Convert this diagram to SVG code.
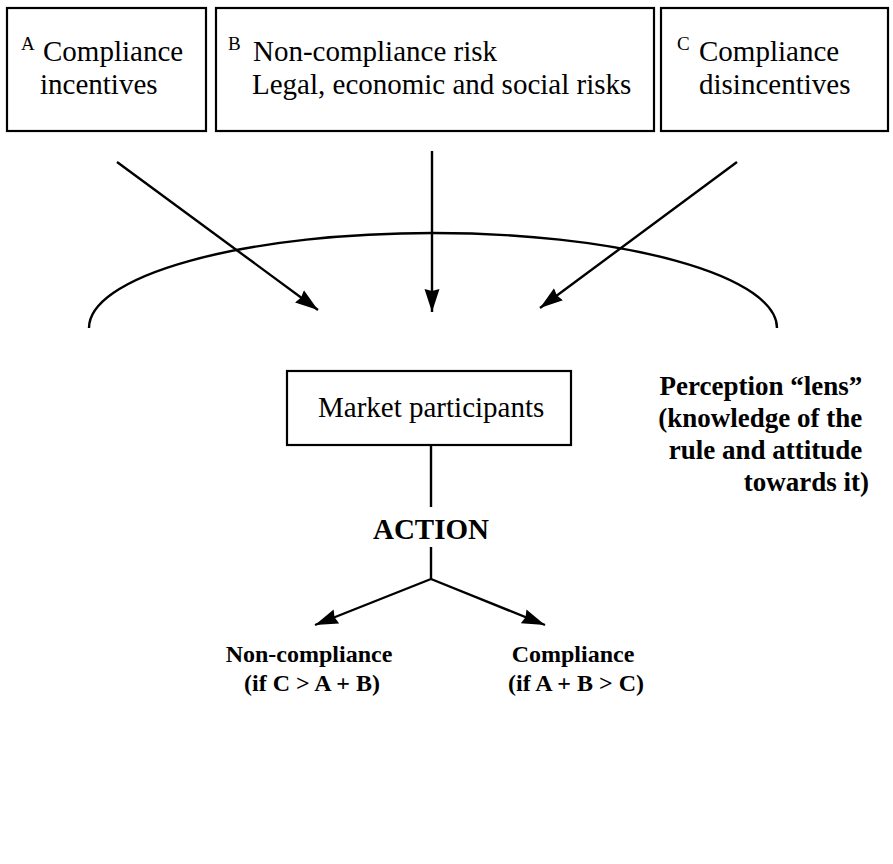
<svg xmlns="http://www.w3.org/2000/svg" width="893" height="864" viewBox="0 0 893 864">
<defs>
<marker id="ah" markerUnits="userSpaceOnUse" markerWidth="26" markerHeight="18" refX="23" refY="8" orient="auto">
<path d="M0,0.5 L23,8 L0,15.5 L2,8 Z" fill="#000"/>
</marker>
<style>
.box{fill:#fff;stroke:#000;stroke-width:2.2}
.t{font-family:"Liberation Serif","Times New Roman",serif;font-size:29px;fill:#000}
.sup{font-family:"Liberation Serif","Times New Roman",serif;font-size:19px;fill:#000}
.b{font-family:"Liberation Serif","Times New Roman",serif;font-weight:bold;fill:#000}
.ln{fill:none;stroke:#000;stroke-width:2.4}
</style>
</defs>
<rect width="893" height="864" fill="#fff"/>
<g id="nodeA">
<rect class="box" x="7" y="8" width="199" height="123"/>
<text class="sup" x="21" y="50">A</text>
<text class="t" x="43" y="61">Compliance</text>
<text class="t" x="40" y="94">incentives</text>
</g>
<g id="nodeB">
<rect class="box" x="216" y="8" width="438" height="123"/>
<text class="sup" x="228" y="50">B</text>
<text class="t" x="253" y="61">Non-compliance risk</text>
<text class="t" x="252" y="94">Legal, economic and social risks</text>
</g>
<g id="nodeC">
<rect class="box" x="661" y="8" width="227" height="123"/>
<text class="sup" x="677" y="50">C</text>
<text class="t" x="699" y="61">Compliance</text>
<text class="t" x="699" y="94">disincentives</text>
</g>
<g id="lens">
<path class="ln" d="M89 328 A344 95 0 0 1 777 328"/>
<text class="b" font-size="27" text-anchor="end">
<tspan x="869" y="395">Perception “lens”</tspan>
<tspan x="869" y="427">(knowledge of the</tspan>
<tspan x="869" y="459">rule and attitude</tspan>
<tspan x="869" y="491">towards it)</tspan>
</text>
</g>
<g id="market">
<rect class="box" x="287" y="371" width="284" height="74"/>
<text class="t" x="318" y="417">Market participants</text>
</g>
<g id="action">
<text class="b" font-size="29" x="431" y="539" text-anchor="middle">ACTION</text>
</g>
<g id="noncompliance">
<text class="b" font-size="24" text-anchor="middle">
<tspan x="312" y="662">Non-compliance</tspan>
<tspan x="312" y="691">(if C &gt; A + B)</tspan>
</text>
</g>
<g id="compliance">
<text class="b" font-size="24" text-anchor="middle">
<tspan x="576" y="662">Compliance</tspan>
<tspan x="576" y="691">(if A + B &gt; C)</tspan>
</text>
</g>
<g id="connectors">
<line class="ln" x1="117" y1="162" x2="318" y2="310" marker-end="url(#ah)"/>
<line class="ln" x1="432" y1="151" x2="432" y2="312" marker-end="url(#ah)"/>
<line class="ln" x1="737" y1="162" x2="540" y2="308" marker-end="url(#ah)"/>
<line class="ln" x1="431" y1="445" x2="431" y2="507"/>
<line class="ln" x1="431" y1="547" x2="431" y2="579"/>
<line class="ln" x1="431" y1="579" x2="315" y2="625" marker-end="url(#ah)"/>
<line class="ln" x1="431" y1="579" x2="545" y2="625" marker-end="url(#ah)"/>
</g>
</svg>
